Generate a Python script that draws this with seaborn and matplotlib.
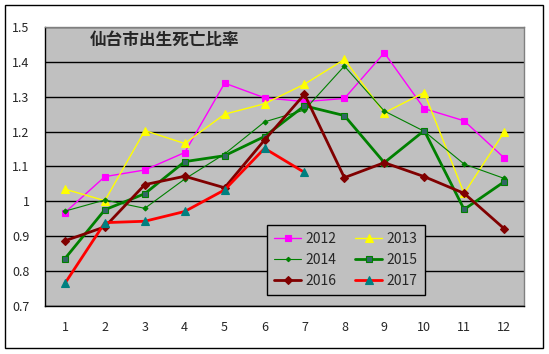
import matplotlib
matplotlib.use("Agg")
import matplotlib.pyplot as plt
import matplotlib.patches as patches
from matplotlib.ticker import FuncFormatter, MultipleLocator, FixedLocator
import seaborn as sns
import pandas as pd

# data
months = [1, 2, 3, 4, 5, 6, 7, 8, 9, 10, 11, 12]
y2012 = [0.968, 1.071, 1.090, 1.140, 1.339, 1.297, 1.286, 1.295, 1.426, 1.266, 1.231, 1.125]
y2013 = [1.035, 1.002, 1.203, 1.166, 1.250, 1.280, 1.336, 1.407, 1.254, 1.312, 1.023, 1.198]
y2014 = [0.972, 1.004, 0.980, 1.064, 1.136, 1.228, 1.262, 1.388, 1.259, 1.201, 1.107, 1.066]
y2015 = [0.836, 0.976, 1.022, 1.114, 1.131, 1.186, 1.274, 1.246, 1.111, 1.203, 0.977, 1.056]
y2016 = [0.887, 0.927, 1.048, 1.072, 1.039, 1.176, 1.307, 1.068, 1.111, 1.071, 1.023, 0.922]
months_2017 = [1, 2, 3, 4, 5, 6, 7]
y2017 = [0.765, 0.939, 0.943, 0.971, 1.033, 1.152, 1.083]

series = [
    ("2012", months, y2012, dict(color="#FF00FF", lw=1.0, marker="s", ms=5, mfc="#FF00FF", mec="#FF00FF")),
    ("2013", months, y2013, dict(color="#FFFF00", lw=1.0, marker="^", ms=6, mfc="#FFFF00", mec="#FFFF00")),
    ("2014", months, y2014, dict(color="#008000", lw=0.8, marker="D", ms=2.5, mfc="#008000", mec="#008000")),
    ("2015", months, y2015, dict(color="#008000", lw=2.0, marker="s", ms=5, mfc="#336666", mec="#008000")),
    ("2016", months, y2016, dict(color="#800000", lw=2.0, marker="D", ms=4, mfc="#800000", mec="#800000")),
    ("2017", months_2017, y2017, dict(color="#FF0000", lw=2.0, marker="^", ms=6, mfc="#008080", mec="#008080")),
]

sns.set_style("white")
plt.rcParams['font.family'] = ['Noto Sans CJK JP', 'DejaVu Sans']

fig = plt.figure(figsize=(5.49, 3.54), dpi=100)
ax = fig.add_axes([45 / 549, 1 - 306 / 354, 479 / 549, 279 / 354])
ax.set_facecolor("#C0C0C0")

for name, xs, ys, st in series:
    df = pd.DataFrame({"month": xs, "ratio": ys})
    sns.lineplot(data=df, x="month", y="ratio", ax=ax, label=name,
                 color=st["color"], linewidth=st["lw"], marker=st["marker"],
                 markersize=st["ms"], markerfacecolor=st["mfc"],
                 markeredgecolor=st["mec"], markeredgewidth=0.8, zorder=3)

ax.set_xlim(0.5, 12.5)
ax.set_ylim(0.7, 1.5)
ax.yaxis.set_major_locator(MultipleLocator(0.1))
ax.yaxis.set_major_formatter(FuncFormatter(lambda v, p: "%g" % round(v, 1)))
ax.xaxis.set_major_locator(FixedLocator(months))
ax.xaxis.set_minor_locator(FixedLocator([m + 0.5 for m in months[:-1]]))
ax.grid(axis="y", color="black", linewidth=1.0, zorder=1)
ax.set_axisbelow(True)
ax.set_xlabel("")
ax.set_ylabel("")

ax.tick_params(axis="x", which="major", length=0, pad=11, labelsize=9)
ax.tick_params(axis="x", which="minor", direction="in", length=3, width=1, color="black")
ax.tick_params(axis="y", length=0, pad=11, labelsize=9)

for side in ["left", "bottom"]:
    ax.spines[side].set_color("black")
    ax.spines[side].set_linewidth(1.0)
for side in ["top", "right"]:
    ax.spines[side].set_color("#808080")
    ax.spines[side].set_linewidth(1.0)

ax.text(0.094, 0.953, "仙台市出生死亡比率", transform=ax.transAxes,
        fontsize=12, fontweight="bold", va="center", ha="left")

# legend rows: 2012 2013 / 2014 2015 / 2016 2017
handles, labels = ax.get_legend_handles_labels()
order = [0, 2, 4, 1, 3, 5]
leg = ax.legend([handles[i] for i in order], [labels[i] for i in order],
                ncol=2, loc="lower left", bbox_to_anchor=(0.463, 0.039),
                borderaxespad=0, fontsize=10, frameon=True, fancybox=False,
                handlelength=2.0, handletextpad=0.3, columnspacing=1.3,
                borderpad=0.5, labelspacing=0.5, markerscale=0.9)
leg.get_frame().set_edgecolor("black")
leg.get_frame().set_facecolor("#C0C0C0")
leg.get_frame().set_linewidth(1.0)
leg.get_frame().set_alpha(1)

fig.patches.append(patches.Rectangle((5 / 549, 1 - 348 / 354), 538 / 549, 343 / 354,
                                     transform=fig.transFigure, fill=False,
                                     edgecolor="black", linewidth=1.0))

fig.savefig("out.png", dpi=100)
